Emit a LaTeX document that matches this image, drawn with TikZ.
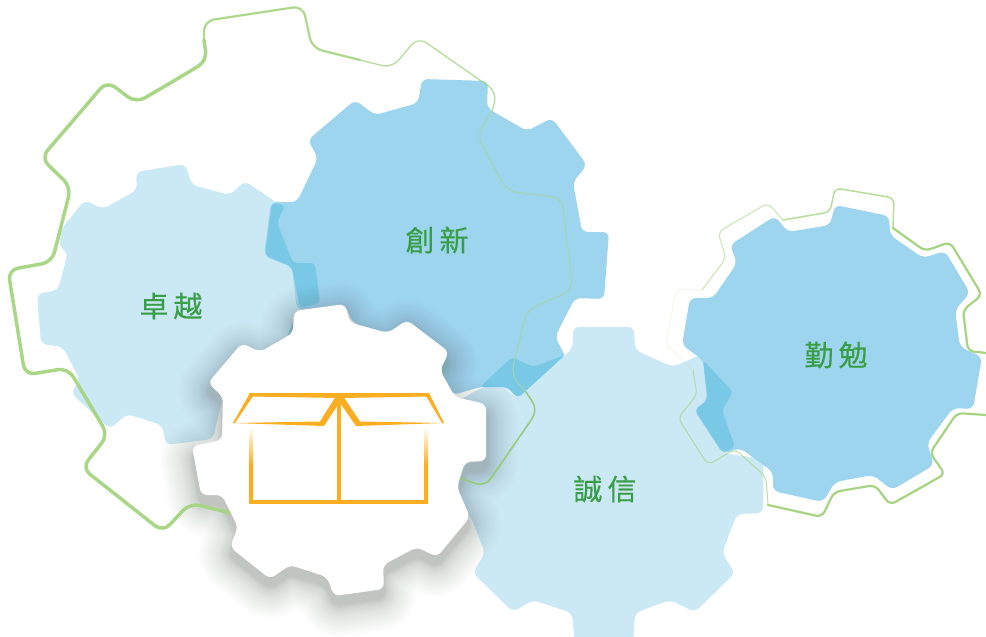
\documentclass[tikz,border=0pt]{standalone}
\usepackage{fontspec}
\newfontfamily\cjkfont[FakeBold=0.4]{Noto Sans CJK TC}
\definecolor{gearblue}{HTML}{9DD5EF}
\definecolor{gearlight}{HTML}{CBE8F5}
\definecolor{gearband}{HTML}{78C8E6}
\definecolor{wordgreen}{HTML}{3A9E48}
\definecolor{ringgreen}{HTML}{A6D482}
\definecolor{boxorange}{HTML}{FBAE22}
\definecolor{shadowgrey}{HTML}{707C72}
\newcommand{\gearexcel}{(136,172) -- (185,164) -- (192,185) -- (230,195) -- (245,181) -- (277,203) -- (320,250) -- (320,350) -- (222,400) -- (213,439) -- (166,445) -- (162,425) -- (127,414) -- (110,429) -- (71,393) -- (80,380) -- (63,347) -- (41,344) -- (37,294) -- (58,290) -- (68,252) -- (59,247) -- (62,228) -- (85,200) -- (103,209) -- (137,190) -- cycle}
\newcommand{\gearinnov}{(422,79) -- (488,81) -- (487,108) -- (527,131) -- (552,118) -- (587,165) -- (573,182) -- (582,232) -- (609,232) -- (604,299) -- (575,298) -- (555,337) -- (566,357) -- (518,399) -- (507,387) -- (480,387) -- (453,395) -- (438,370) -- (445,352) -- (407,322) -- (388,333) -- (353,323) -- (345,305) -- (297,310) -- (292,267) -- (264,256) -- (271,202) -- (297,202) -- (318,158) -- (308,140) -- (355,100) -- (375,115) -- (418,103) -- cycle}
\newcommand{\geartrust}{(573,327) -- (634,327) -- (635,350) -- (673,367) -- (702,354) -- (708,397) -- (723,453) -- (763,459) -- (763,513) -- (737,514) -- (722,553) -- (735,573) -- (695,612) -- (670,600) -- (635,613) -- (633,645) -- (575,645) -- (572,613) -- (533,600) -- (513,612) -- (473,573) -- (485,553) -- (470,515) -- (455,502) -- (450,470) -- (460,400) -- (475,391) -- (497,382) -- (517,398) -- (563,357) -- (573,348) -- cycle}
\newcommand{\geardilig}{(835,205) -- (889,216) -- (890,235) -- (923,258) -- (945,251) -- (970,293) -- (955,310) -- (960,347) -- (982,357) -- (973,409) -- (953,408) -- (927,443) -- (934,465) -- (892,490) -- (873,475) -- (835,482) -- (823,502) -- (773,491) -- (773,472) -- (740,448) -- (723,454) -- (694,410) -- (707,400) -- (703,360) -- (682,345) -- (690,298) -- (713,298) -- (737,263) -- (730,245) -- (775,216) -- (788,232) -- (830,225) -- cycle}
\newcommand{\gearbox}{(294,311) -- (345,304) -- (350,323) -- (388,333) -- (407,320) -- (449,352) -- (440,370) -- (455,397) -- (486,404) -- (486,461) -- (465,462) -- (457,487) -- (470,517) -- (437,557) -- (417,547) -- (383,565) -- (384,589) -- (334,596) -- (327,577) -- (290,565) -- (270,579) -- (230,547) -- (238,527) -- (222,495) -- (201,495) -- (192,446) -- (222,440) -- (223,397) -- (208,383) -- (242,343) -- (260,352) -- (293,333) -- cycle}
\begin{document}
\begin{tikzpicture}[x=1pt,y=-1pt,
  gear node/.style={rounded corners=6pt},
  word node/.style={text=wordgreen,font=\cjkfont\fontsize{29}{29}\selectfont,inner sep=0pt},
  ring/.style={draw=ringgreen,rounded corners=10pt,line cap=round,fill=none},
  box line/.style={draw=boxorange,line width=4.5pt,line join=miter},
  box tip/.style={fill=boxorange,draw=none}]
  \useasboundingbox[fill=white] (0,0) rectangle (986,637);

  % the four gears
  \fill[gear node,gearlight] \gearexcel;
  \fill[gear node,gearblue] \gearinnov;
  \fill[gear node,gearlight] \geartrust;
  \fill[gear node,gearblue] \geardilig;

  % where they overlap
  \fill[rounded corners=4pt,gearband] (272,203) -- (285,205) -- (277,223) -- (293,263) -- (315,263) -- (320,303) -- (300,308) -- (292,267) -- (265,255) -- cycle;
  \fill[gearband] (293,322) -- (294,335) -- (288,335) -- cycle;
  \fill[rounded corners=4pt,gearband] (480,387) -- (512,357) -- (533,367) -- (565,355) -- (518,398) -- (507,387) -- cycle;
  \fill[rounded corners=4pt,gearband] (703,360) -- (733,392) -- (722,410) -- (735,447) -- (723,453) -- (695,410) -- (708,400) -- cycle;

  % soft shadow of the front gear
  \foreach \w in {2,3,4,5,6,7,8,9,10,12,14,16,18,20,22,24,26,29,32,35,38,41,44,48,52,56,60,65} {
    \begin{scope}[transparency group,opacity=.016,yshift=-9pt]
      \path[gear node,fill=shadowgrey,draw=shadowgrey,line join=round,line width=\w pt] \gearbox;
    \end{scope}
  }

  % big ring behind, thick on the left and fading out
  \draw[ring,line width=3.5pt,opacity=.95] (204,40) -- (207,61) -- (172,82) -- (136,103) -- (107,81) -- (41,158) -- (71,187) -- (52,262) -- (8,270) -- (25,375) -- (68,368) -- (108,435) -- (82,468) -- (163,532) -- (190,503) -- (235,514);
  \draw[ring,line width=2.2pt,opacity=.9] (204,40) -- (204,21) -- (303,6) -- (312,48) -- (360,60);
  \draw[ring,line width=1.3pt,opacity=.8] (360,60) -- (392,68) -- (418,37) -- (497,92) -- (492,112);
  \draw[ring,line width=1pt,draw=ringgreen!60!gearblue] (492,112) -- (477,135) -- (507,191) -- (562,198) -- (573,290) -- (527,310) -- (511,375) -- (526,392);
  \draw[ring,line width=1.6pt,draw=ringgreen!85!wordgreen] (526,392) -- (538,410) -- (485,487) -- (460,478);

  % ring round the right gear
  \draw[ring,line width=2.2pt,rounded corners=6pt] (986,415) -- (957,413) -- (930,453) -- (945,474) -- (890,505) -- (875,485) -- (834,492) -- (822,517) -- (768,505);
  \draw[ring,line width=2.2pt,rounded corners=6pt] (986,353) -- (968,351) -- (963,310) -- (982,295) -- (950,242) -- (925,251) -- (893,228);
  \draw[ring,line width=1.5pt,rounded corners=6pt,opacity=.8] (893,228) -- (894,198) -- (835,188) -- (830,212) -- (783,220);
  \draw[ring,line width=1pt,rounded corners=6pt,opacity=.6] (783,220) -- (768,203) -- (718,232) -- (726,258) -- (702,290);
  \draw[ring,line width=.8pt,rounded corners=6pt,opacity=.2] (702,290) -- (676,289) -- (666,345) -- (693,370);
  \draw[ring,line width=1pt,rounded corners=6pt,opacity=.7] (693,370) -- (697,395) -- (678,418) -- (708,465) -- (735,449) -- (766,477) -- (768,505);

  % front gear and its box
  \fill[gear node,white] \gearbox;
  \draw[box line,line cap=butt] (249,502) -- (428,502);
  \draw[box line] (339,397) -- (339,504);
  \fill[box tip] (249,393) -- (429,393) -- (429,396.5) -- (340,398) -- (250,396.5) -- cycle;
  \fill[box tip] (250,393) -- (253,396) -- (235,423) -- (233,423) -- cycle;
  \fill[box tip] (429,393) -- (426,396) -- (442,423) -- (444,423) -- cycle;
  \fill[box tip] (233,423) -- (320,421.5) -- (336,396) -- (341,400) -- (324,426) -- cycle;
  \fill[box tip] (444,423) -- (360,421.5) -- (343,396) -- (338,400) -- (356,426) -- cycle;
  \shade[top color=white,bottom color=boxorange,middle color=boxorange] (249,427) rectangle (253,502);
  \shade[top color=white,bottom color=boxorange,middle color=boxorange] (424,427) rectangle (428,502);

  \node[word node] (excel) at (171,306) {卓\hspace{5pt}越};
  \node[word node] (innov) at (437,240) {創\hspace{5pt}新};
  \node[word node] (trust) at (605,489) {誠\hspace{5pt}信};
  \node[word node] (dilig) at (836,355) {勤\hspace{5pt}勉};
\end{tikzpicture}
\end{document}
